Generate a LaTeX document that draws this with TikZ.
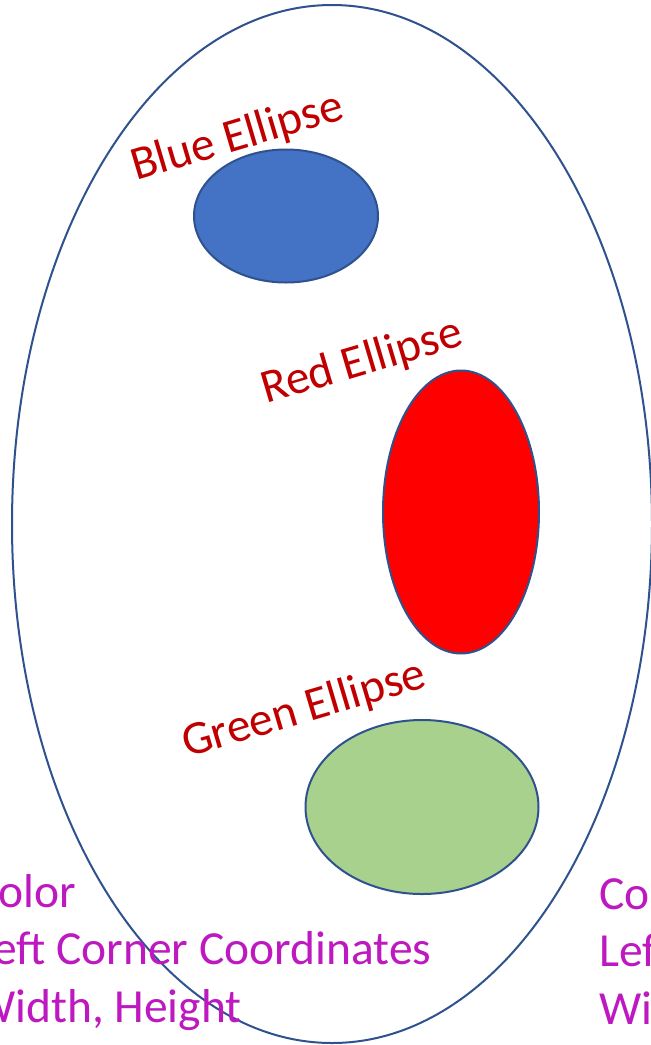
\documentclass[tikz,border=0pt]{standalone}
\usepackage{fontspec}
\setmainfont{Carlito}
\usetikzlibrary{shapes.geometric}
\definecolor{outline}{HTML}{2F528F}
\definecolor{bluefill}{HTML}{4472C4}
\definecolor{redfill}{HTML}{FF0000}
\definecolor{greenfill}{HTML}{A9D18E}
\definecolor{labelred}{HTML}{C00000}
\definecolor{magtext}{RGB}{190,24,192}
\tikzset{
  shapeell/.style={ellipse, draw=outline, line width=2pt, inner sep=0pt},
  ellabel/.style={text=labelred, anchor=base west, rotate=16.5, inner sep=0pt,
    font=\fontsize{47.5}{57}\selectfont},
  mag/.style={text=magtext, anchor=base west, inner sep=0pt,
    font=\fontsize{47.5}{57}\selectfont}
}
\begin{document}
\begin{tikzpicture}[x=1pt,y=-1pt]
\useasboundingbox (0,0) rectangle (651,1045);
\clip (0,0) rectangle (651,1045);
\fill[white] (0,0) rectangle (651,1045);
% outer ellipse
\node[shapeell, minimum width=640pt, minimum height=1038pt] (outer) at (332,524) {};
% inner ellipses
\node[shapeell, fill=bluefill, minimum width=184pt, minimum height=133pt] (blue) at (286,216) {};
\node[shapeell, fill=redfill, minimum width=156pt, minimum height=283pt] (red) at (461,512) {};
\node[shapeell, fill=greenfill, minimum width=233pt, minimum height=174pt] (green) at (422,807) {};
% labels
\node[ellabel] (bluelab) at (136,181) {Blue Ellipse};
\node[ellabel] (redlab) at (266,404) {Red Ellipse};
\node[ellabel] (greenlab) at (187,758) {Green Ellipse};
% left text block (clipped)
\node[mag] (l1) at (-27,907) {Color};
\node[mag] (l2) at (-27,964) {Left Corner Coordinates};
\node[mag] (l3) at (-27,1022) {Width, Height};
% right text block (clipped)
\node[mag] (r1) at (599,909) {Color};
\node[mag] (r2) at (599,966) {Left Corner Coordinates};
\node[mag] (r3) at (599,1024) {Width, Height};
\end{tikzpicture}
\end{document}
